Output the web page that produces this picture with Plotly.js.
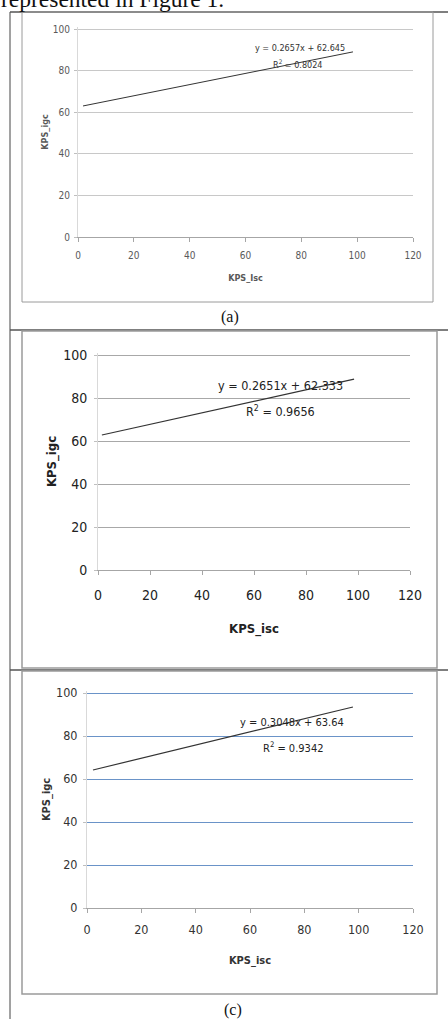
<!DOCTYPE html>
<html>
<head>
<meta charset="utf-8">
<script src="https://cdn.plot.ly/plotly-3.0.1.min.js"></script>
<style>
html,body{margin:0;padding:0;background:#fff;}
#chart{width:448px;height:1019px;}
</style>
</head>
<body>
<div id="chart"></div>
<script>
// Trendline end points (only the fitted lines are drawn)
const trendXA = [1.8, 98.5];
const trendYA = [63.0, 89.0];
const trendXB = [1.5, 98.5];
const trendYB = [62.8, 88.8];
const trendXC = [2.2, 97.9];
const trendYC = [64.2, 93.5];

const eqA = "y = 0.2657x + 62.645";
const r2A = "R<sup>2</sup> = 0.8024";
const eqB = "y = 0.2651x + 62.333";
const r2B = "R<sup>2</sup> = 0.9656";
const eqC = "y = 0.3048x + 63.64";
const r2C = "R<sup>2</sup> = 0.9342";

const xTitle = ["KPS_Isc", "KPS_isc", "KPS_isc"];
const yTitle = "KPS_igc";
const panelLabels = ["(a)", "(c)"];
const headerText = "represented in Figure 1.";

const W = 448, H = 1019;
const px = v => v / W;
const py = v => 1 - v / H;
const YMAX = 101;
// y domain so that 0 sits at y0 px and 100 at y100 px, with a little headroom
const ydom = (y0, y100) => [py(y0), py(y100 - (y0 - y100) * (YMAX - 100) / 100)];

const narrow = "Liberation Sans Narrow, DejaVu Sans Condensed, Arial Narrow, sans-serif";
const serif = "Liberation Serif, Times New Roman, serif";

function xax(domain, fs, col, title, tfs, standoff, lblStand) {
  return {
    domain: domain, range: [0, 120], dtick: 20, tick0: 0,
    showgrid: false, zeroline: false,
    showline: true, linecolor: '#a6a6a6', linewidth: 1,
    ticks: 'outside', ticklen: 4, tickcolor: '#a6a6a6',
    ticklabelstandoff: lblStand,
    tickfont: {family: narrow, size: fs, color: col},
    title: {text: title, font: {family: narrow, size: tfs, color: col, weight: 'bold'}, standoff: standoff},
    fixedrange: true
  };
}
function yax(domain, fs, col, tfs, standoff, gridcol, anchor, lblStand) {
  return {
    domain: domain, range: [0, YMAX], dtick: 20, tick0: 0,
    showgrid: true, gridcolor: gridcol, gridwidth: 1, zeroline: false,
    showline: true, linecolor: '#d9d9d9', linewidth: 1,
    ticks: 'outside', ticklen: 3, tickcolor: '#bfbfbf',
    ticklabelstandoff: lblStand,
    tickfont: {family: narrow, size: fs, color: col},
    title: {text: yTitle, font: {family: narrow, size: tfs, color: col, weight: 'bold'}, standoff: standoff},
    anchor: anchor, fixedrange: true
  };
}

const traces = [
  {x: trendXA, y: trendYA, xaxis: 'x', yaxis: 'y', mode: 'lines', line: {color: '#333', width: 1}, showlegend: false, hoverinfo: 'skip'},
  {x: trendXB, y: trendYB, xaxis: 'x2', yaxis: 'y2', mode: 'lines', line: {color: '#333', width: 1.2}, showlegend: false, hoverinfo: 'skip'},
  {x: trendXC, y: trendYC, xaxis: 'x3', yaxis: 'y3', mode: 'lines', line: {color: '#333', width: 1.2}, showlegend: false, hoverinfo: 'skip'}
];

const shapes = [];
function line(x0, y0, x1, y1, color, w) {
  shapes.push({type: 'line', xref: 'paper', yref: 'paper', x0: px(x0), y0: py(y0), x1: px(x1), y1: py(y1), line: {color: color, width: w}});
}
function rect(x0, y0, x1, y1, color, w) {
  shapes.push({type: 'rect', xref: 'paper', yref: 'paper', x0: px(x0), y0: py(y0), x1: px(x1), y1: py(y1), line: {color: color, width: w}, fillcolor: 'rgba(0,0,0,0)'});
}
// outer frame
line(10, 12, 10, 1019, '#444', 1);
line(10, 12, 448, 12, '#555', 1.5);
line(10, 330, 448, 330, '#555', 1.5);
line(10, 670, 448, 670, '#555', 1.5);
// inner chart boxes
rect(22, 12, 433, 302, '#9a9a9a', 1);
rect(22, 331, 437, 668, '#9a9a9a', 1.5);
rect(22, 671, 437, 994, '#9a9a9a', 1.5);

const annotations = [
  {xref: 'paper', yref: 'paper', x: px(-1), y: py(14), xanchor: 'left', yanchor: 'bottom', text: headerText, showarrow: false, font: {family: serif, size: 23.5, color: '#111'}},
  {xref: 'paper', yref: 'paper', x: px(230), y: py(317), xanchor: 'center', yanchor: 'middle', text: panelLabels[0], showarrow: false, font: {family: serif, size: 16, color: '#111'}},
  {xref: 'paper', yref: 'paper', x: px(233), y: py(1010), xanchor: 'center', yanchor: 'middle', text: panelLabels[1], showarrow: false, font: {family: serif, size: 16, color: '#111'}},
  {xref: 'x', yref: 'y', x: 79.5, y: 91, text: eqA, showarrow: false, font: {family: narrow, size: 9, color: '#333'}},
  {xref: 'x', yref: 'y', x: 78.5, y: 83, text: r2A, showarrow: false, font: {family: narrow, size: 9, color: '#333'}},
  {xref: 'x2', yref: 'y2', x: 70, y: 86, text: eqB, showarrow: false, font: {family: narrow, size: 12.5, color: '#222'}},
  {xref: 'x2', yref: 'y2', x: 70, y: 74, text: r2B, showarrow: false, font: {family: narrow, size: 12.5, color: '#222'}},
  {xref: 'x3', yref: 'y3', x: 75.5, y: 86.5, text: eqC, showarrow: false, font: {family: narrow, size: 11, color: '#222'}},
  {xref: 'x3', yref: 'y3', x: 75.8, y: 74.8, text: r2C, showarrow: false, font: {family: narrow, size: 11, color: '#222'}}
];

const layout = {
  width: W, height: H,
  margin: {l: 0, r: 0, t: 0, b: 0},
  paper_bgcolor: '#fff', plot_bgcolor: 'rgba(0,0,0,0)',
  showlegend: false,
  xaxis: Object.assign(xax([px(78), px(413)], 10, '#595959', xTitle[0], 9, 14, 5), {anchor: 'y'}),
  yaxis: yax(ydom(237, 29), 10, '#595959', 9, 2, '#c8c8c8', 'x', 2),
  xaxis2: Object.assign(xax([px(98), px(410)], 14, '#222', xTitle[1], 13, 22, 8), {anchor: 'y2'}),
  yaxis2: yax(ydom(570, 355), 14, '#222', 13, 3, '#a8a8a8', 'x2', 4),
  xaxis3: Object.assign(xax([px(87), px(413)], 12.5, '#333', xTitle[2], 11, 20, 6), {anchor: 'y3'}),
  yaxis3: yax(ydom(908, 693), 12.5, '#333', 11, 3, '#6a93c8', 'x3', 3),
  shapes: shapes,
  annotations: annotations
};

Plotly.newPlot('chart', traces, layout, {staticPlot: true, displayModeBar: false});
</script>
</body>
</html>
